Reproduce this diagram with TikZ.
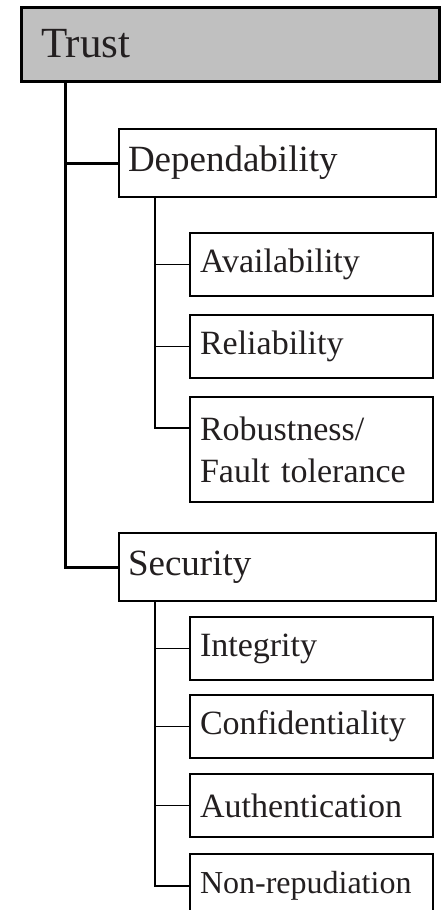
\documentclass[tikz,border=0pt]{standalone}
\usepackage{fontspec}
\setmainfont{Liberation Serif}
\usepackage{xcolor}
\usepackage{tikz}
\definecolor{TrustGray}{HTML}{C0C0C0}
\definecolor{TrustInk}{HTML}{231F20}

\begin{document}
\begin{tikzpicture}[x=1pt, y=-1pt, every node/.style={text=TrustInk}]

    \tikzstyle{rootbox}=[
      draw=black,
      line width=3pt,
      fill=TrustGray,
      anchor=north west,
      outer sep=0pt,
      inner xsep=20pt,
      text width=378pt,
      minimum height=74pt,
      align=left,
      font=\fontsize{43}{50}\selectfont
    ]
    \tikzstyle{groupbox}=[
      draw=black,
      line width=2.4pt,
      fill=white,
      anchor=north west,
      outer sep=0pt,
      inner xsep=9pt,
      text width=299pt,
      minimum height=68pt,
      align=left,
      font=\fontsize{37}{44}\selectfont
    ]
    \tikzstyle{leafbox}=[
      draw=black,
      line width=1.8pt,
      fill=white,
      anchor=north west,
      outer sep=0pt,
      inner xsep=10pt,
      text width=223pt,
      minimum height=63pt,
      align=left,
      font=\fontsize{34}{42}\selectfont
    ]
    \tikzstyle{trunk}=[line width=3pt, draw=black]
    \tikzstyle{branch}=[line width=2.6pt, draw=black]
    \tikzstyle{twig}=[line width=1.8pt, draw=black]

    \useasboundingbox (0,0) rectangle (441,910);

    % --- Root ---
    \node[rootbox] (trust) at (21,7) {Trust};

    % --- Dependability group ---
    \node[groupbox] (dep) at (119,129) {Dependability};
    \node[leafbox] (avail) at (190,233) {Availability};
    \node[leafbox] (rel) at (190,315) {Reliability};
    \node[leafbox, minimum height=105pt] (robust) at (190,397) {Robustness/\\Fault tolerance};

    % --- Security group ---
    \node[groupbox] (sec) at (119,533) {Security};
    \node[leafbox] (integ) at (190,617) {Integrity};
    \node[leafbox] (conf) at (190,695) {Confidentiality};
    \node[leafbox] (auth) at (190,774) {Authentication};
    \node[leafbox, font=\fontsize{32}{40}\selectfont] (nonrep) at (190,854) {Non-repudiation};

    % --- Root lines ---
    \draw[trunk] ([xshift=44pt]trust.south west) |- (dep.west);
    \draw[trunk] ([xshift=44pt]trust.south west) |- (sec.west);

    % --- Dependability lines ---
    \coordinate (depfork) at ([xshift=36pt]dep.south west);
    \draw[twig] (depfork) |- (avail.west);
    \draw[twig] (depfork) |- (rel.west);
    \draw[twig] (depfork) |- (robust.north west |- 0,428);
    \draw[branch] (depfork) -- (depfork |- rel.west);

    % --- Security lines ---
    \coordinate (secfork) at ([xshift=36pt]sec.south west);
    \draw[twig] (secfork) |- (integ.west);
    \draw[twig] (secfork) |- (conf.west);
    \draw[twig] (secfork) |- (auth.west);
    \draw[twig] (secfork) |- (nonrep.north west |- 0,886);
    \draw[branch] (secfork) -- (secfork |- integ.west);

  \end{tikzpicture}
\end{document}
